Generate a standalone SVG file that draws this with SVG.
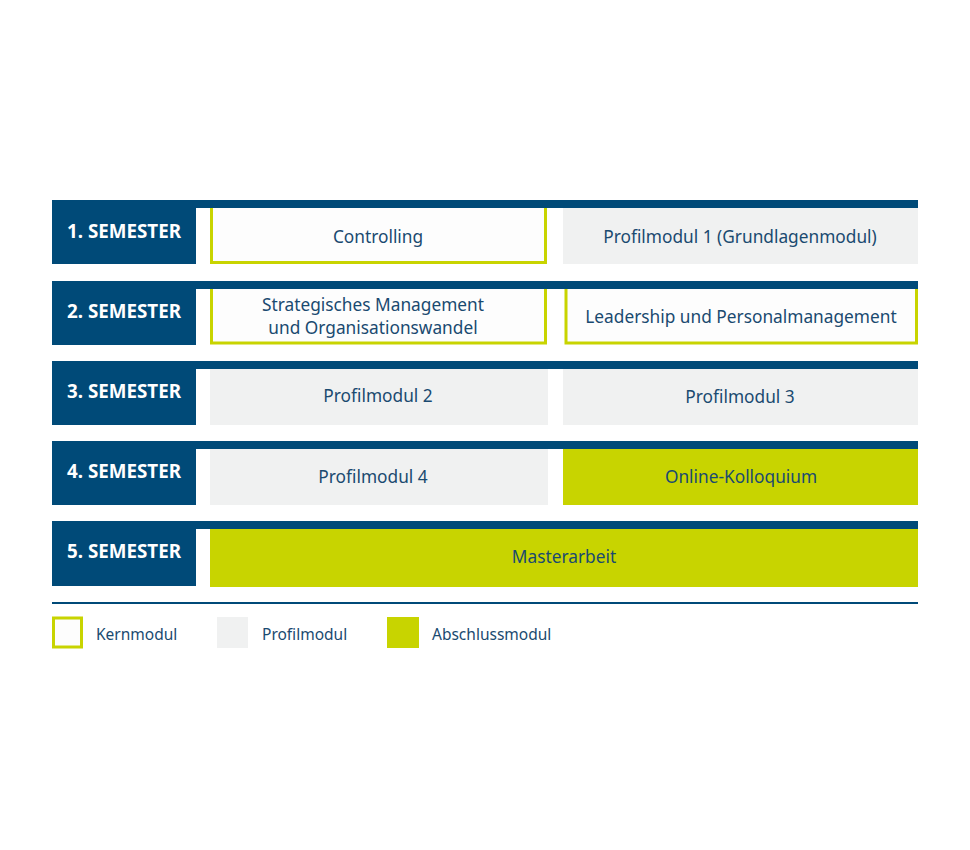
<svg xmlns="http://www.w3.org/2000/svg" width="970" height="850" viewBox="0 0 970 850">
<style>
.lab{fill:#004a78}
.bar{fill:#004a78}
.sem{font-family:"Noto Sans","Liberation Sans",sans-serif;font-weight:bold;font-size:18.8px;fill:#ffffff;text-anchor:middle;dominant-baseline:central}
.t{font-family:"Noto Sans","Liberation Sans",sans-serif;font-size:17.3px;fill:#1a4a70;text-anchor:middle;dominant-baseline:central}
.lt{font-family:"Noto Sans","Liberation Sans",sans-serif;font-size:15.5px;fill:#1a4a70;dominant-baseline:central}
.kern{fill:#fdfdfd;stroke:#c8d400;stroke-width:3}
.prof{fill:#f0f1f1}
.abs{fill:#c8d400}
</style>
<rect width="970" height="850" fill="#ffffff"/>
<g id="row1">
<rect class="kern" x="211.5" y="206" width="334" height="56.5"/>
<rect class="prof" x="563" y="207" width="355" height="57"/>
<rect class="bar" x="52" y="200" width="866" height="8"/>
<rect class="lab" x="52" y="200" width="144" height="64"/>
<text class="sem" x="124" y="231">1. SEMESTER</text>
<text class="t" x="378" y="236">Controlling</text>
<text class="t" x="740" y="236">Profilmodul 1 (Grundlagenmodul)</text>
</g>
<g id="row2">
<rect class="kern" x="211.5" y="287" width="334" height="56"/>
<rect class="kern" x="566" y="287" width="350.5" height="56"/>
<rect class="bar" x="52" y="281" width="866" height="8"/>
<rect class="lab" x="52" y="281" width="144" height="64"/>
<text class="sem" x="124" y="311">2. SEMESTER</text>
<text class="t" x="373" y="304">Strategisches Management</text>
<text class="t" x="373" y="327">und Organisationswandel</text>
<text class="t" x="741" y="316">Leadership und Personalmanagement</text>
</g>
<g id="row3">
<rect class="prof" x="210" y="368" width="338" height="57"/>
<rect class="prof" x="563" y="368" width="355" height="57"/>
<rect class="bar" x="52" y="361" width="866" height="8"/>
<rect class="lab" x="52" y="361" width="144" height="64"/>
<text class="sem" x="124" y="391">3. SEMESTER</text>
<text class="t" x="378" y="395">Profilmodul 2</text>
<text class="t" x="740" y="396">Profilmodul 3</text>
</g>
<g id="row4">
<rect class="prof" x="210" y="448" width="338" height="57"/>
<rect class="abs" x="563" y="448" width="355" height="57"/>
<rect class="bar" x="52" y="441" width="866" height="8"/>
<rect class="lab" x="52" y="441" width="144" height="64"/>
<text class="sem" x="124" y="471">4. SEMESTER</text>
<text class="t" x="373" y="476">Profilmodul 4</text>
<text class="t" x="741" y="476">Online-Kolloquium</text>
</g>
<g id="row5">
<rect class="abs" x="210" y="528" width="708" height="59"/>
<rect class="bar" x="52" y="521" width="866" height="8"/>
<rect class="lab" x="52" y="521" width="144" height="65"/>
<text class="sem" x="124" y="551">5. SEMESTER</text>
<text class="t" x="564" y="556">Masterarbeit</text>
</g>
<g id="connectors">
<rect class="bar" x="52" y="602" width="866" height="2"/>
</g>
<g id="legend">
<rect class="kern" x="53.5" y="618" width="28" height="29"/>
<text class="lt" x="96" y="634">Kernmodul</text>
<rect class="prof" x="217" y="617" width="31" height="31"/>
<text class="lt" x="262" y="634">Profilmodul</text>
<rect class="abs" x="387" y="617" width="32" height="31"/>
<text class="lt" x="432" y="634">Abschlussmodul</text>
</g>
</svg>
